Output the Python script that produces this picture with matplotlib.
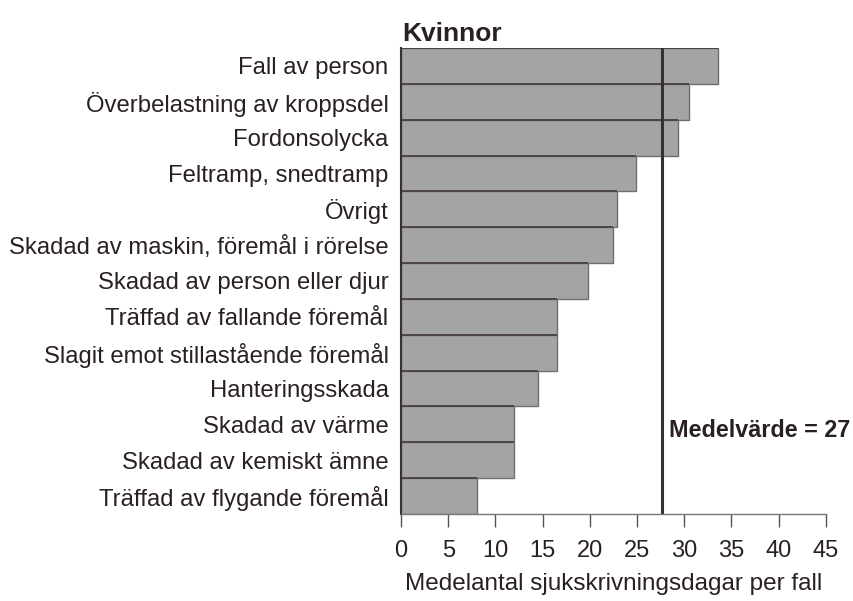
import matplotlib
matplotlib.use("Agg")
import matplotlib.pyplot as plt

plt.rcParams['font.family'] = ['Liberation Sans', 'DejaVu Sans']

categories = [
    "Fall av person",
    "Överbelastning av kroppsdel",
    "Fordonsolycka",
    "Feltramp, snedtramp",
    "Övrigt",
    "Skadad av maskin, föremål i rörelse",
    "Skadad av person eller djur",
    "Träffad av fallande föremål",
    "Slagit emot stillastående föremål",
    "Hanteringsskada",
    "Skadad av värme",
    "Skadad av kemiskt ämne",
    "Träffad av flygande föremål",
]
values = [33.6, 30.5, 29.3, 24.9, 22.9, 22.4, 19.8, 16.5, 16.5, 14.5, 12.0, 12.0, 8.0]
mean_value = 27.6
mean_label = "Medelvärde = 27"
title = "Kvinnor"
xlabel = "Medelantal sjukskrivningsdagar per fall"
xticks = [0, 5, 10, 15, 20, 25, 30, 35, 40, 45]

txt = '#2a2024'

fig = plt.figure(figsize=(8.54, 6.01), dpi=100)
ax = fig.add_axes([0.4696, 0.1448, 0.4975, 0.7753])

n = len(categories)
ypos = list(range(n))
ax.barh(ypos, values, height=1.0, color='#a4a4a4', edgecolor='#707070', linewidth=1.0)
# dark top edges of bars
for y, v in zip(ypos, values):
    ax.plot([0, v], [y - 0.5, y - 0.5], color='#4a4044', lw=1.3, solid_capstyle='butt')

ax.set_ylim(n - 0.5, -0.5)
ax.set_xlim(0, 45)
ax.set_yticks(ypos)
ax.set_yticklabels(categories, fontsize=17.2, color=txt)
ax.tick_params(axis='y', length=0, pad=9)
ax.set_xticks(xticks)
ax.set_xticklabels([str(t) for t in xticks], fontsize=17, color=txt)
ax.tick_params(axis='x', direction='out', length=9, width=1, color='#555555', pad=10)

for s in ['top', 'right']:
    ax.spines[s].set_visible(False)
ax.spines['left'].set_color('#3a2f33')
ax.spines['left'].set_linewidth(1.5)
ax.spines['bottom'].set_color('#777777')
ax.spines['bottom'].set_linewidth(1.0)

ax.axvline(mean_value, color='#3a2f33', lw=2.2)
ax.text(mean_value + 0.75, 0.18, mean_label, transform=ax.get_xaxis_transform(),
        fontsize=16.8, fontweight='bold', color=txt, va='center', ha='left')

ax.text(0.003, 1.005, title, transform=ax.transAxes, fontsize=19, fontweight='bold',
        color=txt, ha='left', va='bottom')
ax.set_xlabel(xlabel, fontsize=17.5, color=txt, labelpad=8)

fig.savefig("out.png", dpi=100)
